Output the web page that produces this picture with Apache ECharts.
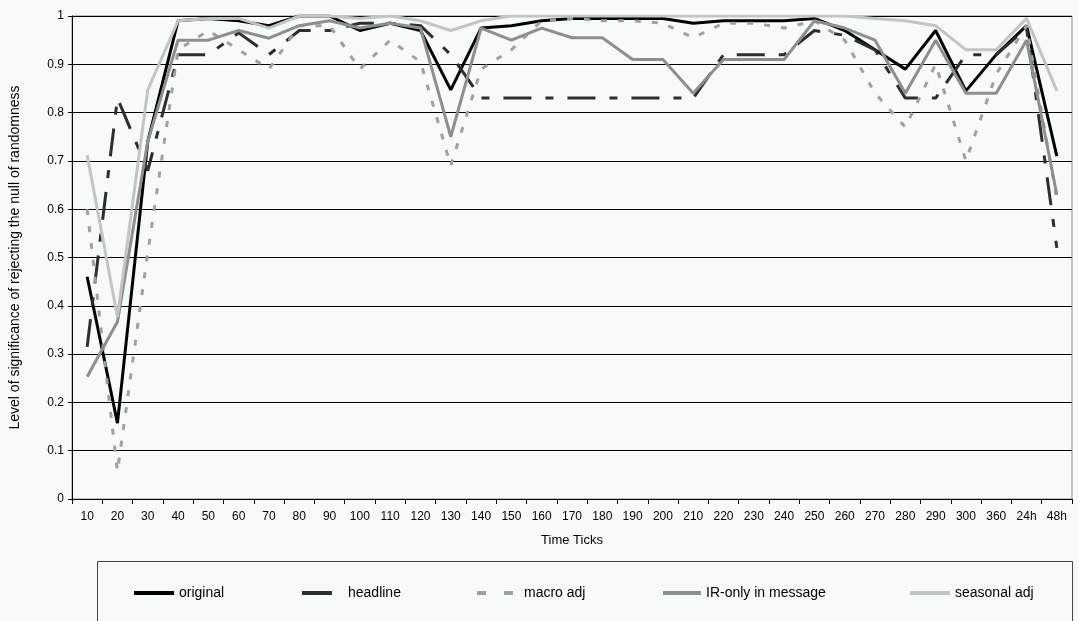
<!DOCTYPE html>
<html>
<head>
<meta charset="utf-8">
<script src="https://cdn.jsdelivr.net/npm/echarts@6/dist/echarts.min.js"></script>
<style>
html,body{margin:0;padding:0;background:#f6faf8;}
#chart{width:1079px;height:621px;}
</style>
</head>
<body>
<div id="chart"></div>
<script>
const categories = ['10','20','30','40','50','60','70','80','90','100','110','120','130','140','150','160','170','180','190','200','210','220','230','240','250','260','270','280','290','300','360','24h','48h'];
const yTicks = [0,0.1,0.2,0.3,0.4,0.5,0.6,0.7,0.8,0.9,1];
const original = [0.46,0.157,0.74,0.99,0.995,0.99,0.98,1.0,1.0,0.97,0.985,0.97,0.847,0.975,0.98,0.99,0.995,0.995,0.995,0.995,0.985,0.99,0.99,0.99,0.995,0.97,0.93,0.89,0.97,0.845,0.92,0.98,0.71];
const headline = [0.315,0.83,0.68,0.92,0.92,0.965,0.92,0.97,0.97,0.985,0.985,0.98,0.92,0.83,0.83,0.83,0.83,0.83,0.83,0.83,0.83,0.92,0.92,0.92,0.97,0.96,0.93,0.83,0.83,0.92,0.92,0.975,0.52];
const macroAdj = [0.6,0.057,0.51,0.93,0.97,0.93,0.89,0.98,0.98,0.89,0.95,0.905,0.69,0.89,0.93,0.99,0.995,0.99,0.99,0.985,0.955,0.985,0.985,0.975,0.99,0.95,0.84,0.77,0.9,0.70,0.88,0.98,0.62];
const irOnly = [0.253,0.367,0.74,0.95,0.95,0.97,0.954,0.98,0.99,0.975,0.985,0.975,0.75,0.975,0.95,0.975,0.955,0.955,0.91,0.91,0.84,0.91,0.91,0.91,0.99,0.975,0.95,0.84,0.95,0.84,0.84,0.95,0.63];
const seasonalAdj = [0.712,0.377,0.847,0.99,0.995,0.995,0.975,1.0,1.0,0.995,1.0,0.99,0.97,0.99,1.0,1.0,1.0,1.0,1.0,1.0,1.0,1.0,1.0,1.0,1.0,1.0,0.995,0.99,0.98,0.93,0.93,0.995,0.845];
const seriesNames = ['original','headline','macro adj','IR-only in message','seasonal adj'];
const seriesColors = ['#000000','#2e2e2e','#a0a0a0','#8e8e8e','#c4c4c4'];

const FONT = '"Liberation Sans", Arial, sans-serif';
const chart = echarts.init(document.getElementById('chart'), null, {renderer:'canvas'});

function lg(i, left, w, pad, icon){
  return {
    data:[seriesNames[i]], left:left, top:586, padding:0, itemWidth:w, itemHeight:4,
    icon:icon || 'rect', selectedMode:false,
    itemStyle:{color:seriesColors[i], borderWidth:0},
    textStyle:{fontFamily:FONT, fontSize:14, color:'#000', padding:[0,0,0,pad]}
  };
}

chart.setOption({
  backgroundColor:'#f6faf8',
  animation:false,
  grid:{left:72, right:7, top:16, bottom:122, show:true, borderColor:'#8a8a8a', borderWidth:1, backgroundColor:'transparent'},
  graphic:[{type:'rect', shape:{x:97.5, y:561.5, width:975, height:70}, style:{fill:'transparent', stroke:'#444', lineWidth:1}, silent:true, z:-1}],
  legend:[
    lg(0,134,40,0),
    lg(1,302,30,11),
    lg(2,477,36,6,'path://M0,0h9v4h-9z M27,0h9v4h-9z'),
    lg(3,663,38,0),
    lg(4,910,40,0)
  ],
  xAxis:{
    type:'category', data:categories, boundaryGap:true,
    name:'Time Ticks', nameLocation:'middle', nameGap:35,
    nameTextStyle:{fontFamily:FONT, fontSize:13, color:'#000'},
    axisLine:{lineStyle:{color:'#000', width:1}},
    axisTick:{show:true, length:5, interval:0, lineStyle:{color:'#000'}},
    axisLabel:{interval:0, fontFamily:FONT, fontSize:12, color:'#000', margin:12},
    splitLine:{show:false}
  },
  yAxis:{
    type:'value', min:0, max:1, interval:0.1,
    name:'Level of significance of rejecting the null of randomness', nameLocation:'middle', nameGap:50,
    nameTextStyle:{fontFamily:FONT, fontSize:14, color:'#000'},
    axisLine:{show:true, lineStyle:{color:'#000', width:1}},
    axisTick:{show:true, length:4, lineStyle:{color:'#000'}},
    axisLabel:{fontFamily:FONT, fontSize:12, color:'#000', margin:8,
      formatter:function(v){ const t = yTicks.find(x=>Math.abs(x-v)<1e-9); return t===undefined? '' : String(t); }},
    splitLine:{show:true, lineStyle:{color:'#000', width:1}}
  },
  series:[
    {name:seriesNames[0], type:'line', data:original, symbol:'none', lineStyle:{color:seriesColors[0], width:3}, itemStyle:{color:seriesColors[0]}},
    {name:seriesNames[1], type:'line', data:headline, symbol:'none', lineStyle:{color:seriesColors[1], width:3, type:[28,14,8,14]}, itemStyle:{color:seriesColors[1]}},
    {name:seriesNames[2], type:'line', data:macroAdj, symbol:'none', lineStyle:{color:seriesColors[2], width:3, type:[6,11]}, itemStyle:{color:seriesColors[2]}},
    {name:seriesNames[3], type:'line', data:irOnly, symbol:'none', lineStyle:{color:seriesColors[3], width:3}, itemStyle:{color:seriesColors[3]}},
    {name:seriesNames[4], type:'line', data:seasonalAdj, symbol:'none', lineStyle:{color:seriesColors[4], width:3}, itemStyle:{color:seriesColors[4]}}
  ]
});
</script>
</body>
</html>
